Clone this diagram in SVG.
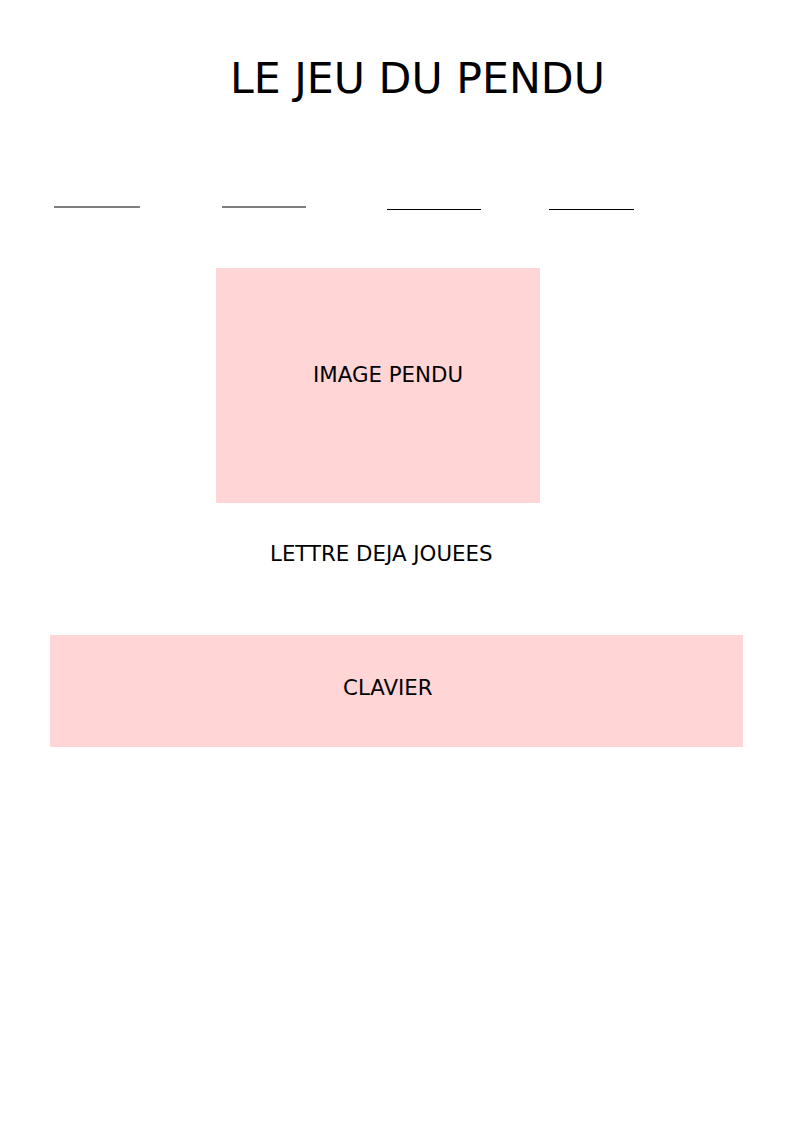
<svg xmlns="http://www.w3.org/2000/svg" width="794" height="1123" viewBox="0 0 794 1123">
<style>
.t{font-family:"DejaVu Sans",sans-serif;fill:#000}
.lbl{font-size:21.33px}
.box{fill:#ffd5d5}
.ln{stroke:#000;stroke-width:1;fill:none}
</style>
<rect width="794" height="1123" fill="#fff"/>
<g id="title"><text class="t" x="230" y="93" font-size="42.67">LE JEU DU PENDU</text></g>
<g id="blanks">
<line class="ln" x1="54" y1="207" x2="140" y2="207" stroke="#222"/>
<line class="ln" x1="222" y1="207" x2="306" y2="207" stroke="#222"/>
<line class="ln" x1="387" y1="209.5" x2="481" y2="209.5"/>
<line class="ln" x1="549" y1="209.5" x2="634" y2="209.5"/>
</g>
<g id="image-pendu">
<rect class="box" x="216" y="268" width="324" height="235"/>
<text class="t lbl" x="313" y="382">IMAGE PENDU</text>
</g>
<g id="lettres"><text class="t lbl" x="270" y="561">LETTRE DEJA JOUEES</text></g>
<g id="clavier">
<rect class="box" x="50" y="635" width="693" height="112"/>
<text class="t lbl" x="343" y="695">CLAVIER</text>
</g>
<g id="connectors"/>
</svg>
